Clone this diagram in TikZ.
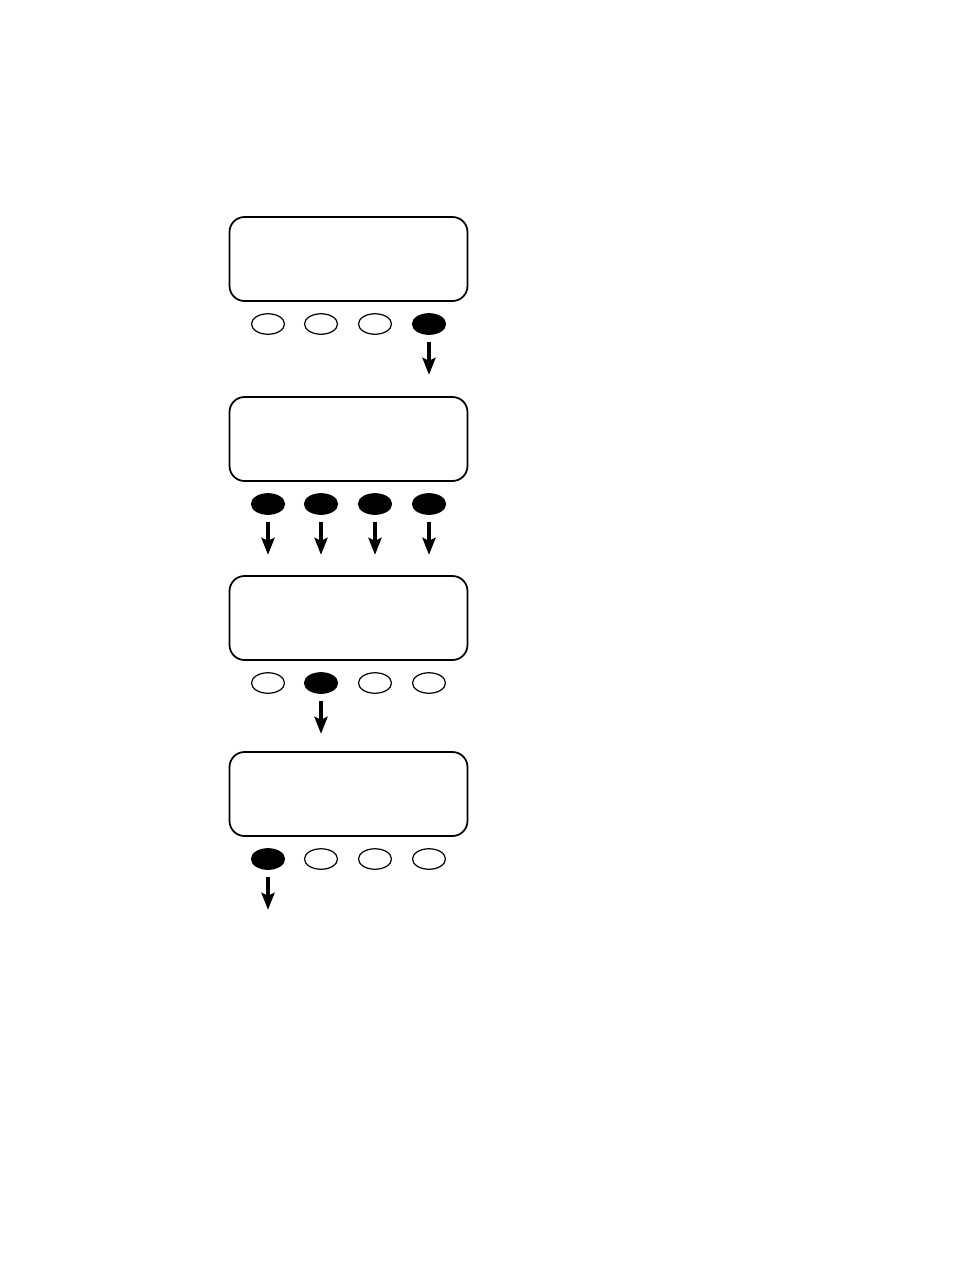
\documentclass[tikz,border=0pt]{standalone}
\usetikzlibrary{shapes.geometric,arrows.meta}
\begin{document}
\begin{tikzpicture}[x=0.02cm,y=-0.02cm,line join=round,
		>={Stealth[length=0.34cm,width=0.26cm,inset=0.06cm]},
		manhinh/.style={draw,line width=1pt,rounded corners=0.3cm,minimum width=4.76cm,minimum height=1.68cm,inner sep=0pt},
		nut/.style={draw,ellipse,line width=0.7pt,minimum width=0.66cm,minimum height=0.41cm,inner sep=0pt},
		nutbam/.style={nut,fill=black},
		muiten/.style={->,line width=2.3pt,shorten <=0.14cm}]
	\useasboundingbox (0,0) rectangle (954,1272);
	% man hinh va nut bam
	\foreach \p/\y/\a/\b/\c/\d in {1/259/nut/nut/nut/nutbam,2/439/nutbam/nutbam/nutbam/nutbam,3/618/nut/nutbam/nut/nut,4/794/nutbam/nut/nut/nut}{
		\node[manhinh] (mh\p) at (348.5,\y) {};
		\node[\a] (n\p1) at (268,\y+65) {};
		\node[\b] (n\p2) at (321,\y+65) {};
		\node[\c] (n\p3) at (375,\y+65) {};
		\node[\d] (n\p4) at (429,\y+65) {};
	}
	\foreach \k in {14,21,22,23,24,32,41}
		\draw[muiten] (n\k.south) -- ++(0,40);
\end{tikzpicture}
\end{document}
